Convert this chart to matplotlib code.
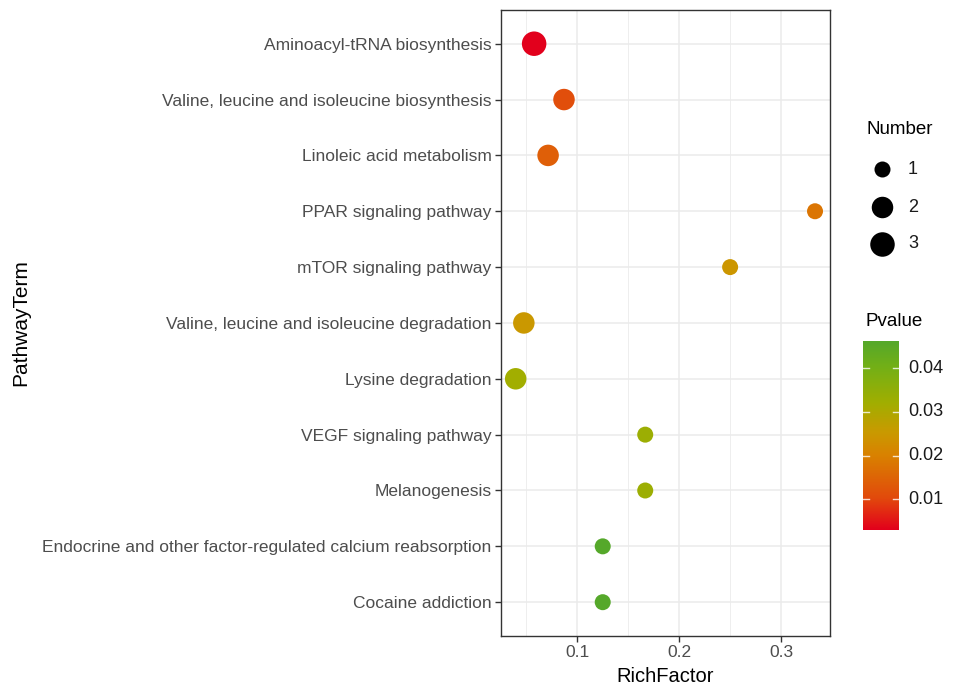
import numpy as np
import matplotlib
matplotlib.use("Agg")
import matplotlib.pyplot as plt
from matplotlib.colors import LinearSegmentedColormap, Normalize

plt.rcParams["font.family"] = ["Liberation Sans", "DejaVu Sans"]

# pathway terms, top to bottom
TERMS = [
    "Aminoacyl-tRNA biosynthesis",
    "Valine, leucine and isoleucine biosynthesis",
    "Linoleic acid metabolism",
    "PPAR signaling pathway",
    "mTOR signaling pathway",
    "Valine, leucine and isoleucine degradation",
    "Lysine degradation",
    "VEGF signaling pathway",
    "Melanogenesis",
    "Endocrine and other factor-regulated calcium reabsorption",
    "Cocaine addiction",
]
RICH_FACTOR = [0.0577, 0.0870, 0.0714, 0.3333, 0.2500, 0.0476, 0.0396,
               0.1667, 0.1667, 0.1250, 0.1250]
NUMBER = [3, 2, 2, 1, 1, 2, 2, 1, 1, 1, 1]
PVALUE = [0.0030, 0.0110, 0.0140, 0.0180, 0.0245, 0.0250, 0.0320,
          0.0330, 0.0330, 0.0462, 0.0462]

NUMBER_LEVELS = [1, 2, 3]
PV_TICKS = [0.01, 0.02, 0.03, 0.04]

W, H = 955, 692
fig = plt.figure(figsize=(W / 100, H / 100), dpi=100)

# red -> green, approximating ggplot's Lab gradient
cmap = LinearSegmentedColormap.from_list(
    "pv",
    [(0.0, "#e2001c"), (0.17, "#e24a0c"), (0.40, "#d98300"),
     (0.52, "#c99a00"), (0.67, "#a2ae00"), (0.86, "#74b016"), (1.0, "#55a82a")],
)
norm = Normalize(vmin=min(PVALUE), vmax=max(PVALUE))


def size_of(n):
    # marker diameter in px -> area in pt^2
    d = {1: 16.0, 2: 21.5, 3: 24.5}[n] * 0.72
    return d * d


def px(x0, y0, x1, y1):
    return [x0 / W, 1 - y1 / H, (x1 - x0) / W, (y1 - y0) / H]


ax = fig.add_axes(px(500.7, 10.2, 830, 635.7))
ax.set_facecolor("white")

y = np.arange(len(TERMS))
ax.scatter(RICH_FACTOR, y, s=[size_of(n) for n in NUMBER],
           c=PVALUE, cmap=cmap, norm=norm, linewidths=0, zorder=3)

ax.set_xlim(0.0249, 0.3480)
ax.set_ylim(len(TERMS) - 0.4, -0.6)
ax.set_yticks(y)
ax.set_yticklabels(TERMS)
ax.set_xticks([0.1, 0.2, 0.3])
ax.set_xticklabels(["0.1", "0.2", "0.3"])
ax.set_xticks([0.05, 0.15, 0.25], minor=True)

ax.grid(True, which="major", color="#ebebeb", lw=1.1, zorder=0)
ax.grid(True, which="minor", axis="x", color="#ebebeb", lw=0.6, zorder=0)
ax.set_axisbelow(True)
for s in ax.spines.values():
    s.set_color("#333333")
    s.set_linewidth(1.0)
ax.tick_params(axis="both", which="major", length=4, width=1.0, color="#333333",
               labelcolor="#4d4d4d", pad=2.5)
ax.tick_params(axis="y", labelsize=12.5)
ax.tick_params(axis="x", labelsize=12.5, pad=3)
ax.tick_params(axis="x", which="minor", length=0)
ax.set_xlabel("RichFactor", fontsize=14.5, color="black", labelpad=5)
ax.set_ylabel("PathwayTerm", fontsize=15, color="black", labelpad=9)

# size legend
lax = fig.add_axes([0, 0, 1, 1], facecolor="none")
lax.set_xlim(0, W)
lax.set_ylim(H, 0)
lax.axis("off")
lax.text(866, 130, "Number", fontsize=13.5, va="center", ha="left")
for lvl, yy in zip(NUMBER_LEVELS, [169, 207, 244]):
    lax.scatter([881.5], [yy], s=size_of(lvl), color="black", linewidths=0)
    lax.text(908, yy, str(lvl), fontsize=13, va="center", ha="left", color="#1a1a1a")

# colour bar
lax.text(865, 321, "Pvalue", fontsize=13.5, va="center", ha="left")
cax = fig.add_axes(px(863, 341, 899, 530))
grad = np.linspace(norm.vmin, norm.vmax, 256).reshape(-1, 1)
cax.imshow(grad, aspect="auto", cmap=cmap, norm=norm, origin="lower",
           extent=[0, 1, norm.vmin, norm.vmax])
cax.set_xlim(0, 1)
cax.set_ylim(norm.vmin, norm.vmax)
cax.set_xticks([])
cax.set_yticks([])
for s in cax.spines.values():
    s.set_visible(False)
for t in PV_TICKS:
    cax.plot([0, 0.18], [t, t], color="white", lw=1, alpha=0.8)
    cax.plot([0.82, 1], [t, t], color="white", lw=1, alpha=0.8)
    cax.text(1.25, t, f"{t:.2f}", fontsize=13, va="center", ha="left",
             color="#1a1a1a", transform=cax.get_yaxis_transform())

fig.savefig("out.png", dpi=100)
